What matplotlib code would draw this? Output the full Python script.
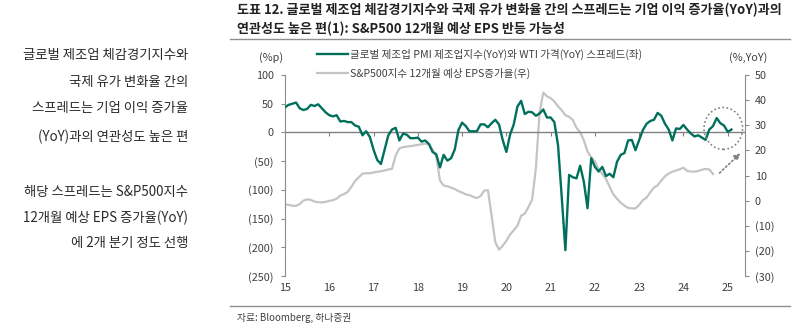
import numpy as np
import matplotlib
matplotlib.use('Agg')
import matplotlib.pyplot as plt
from matplotlib.patches import Ellipse
from matplotlib.ticker import FuncFormatter

plt.rcParams['font.family'] = ['Noto Sans CJK KR', 'DejaVu Sans']

# monthly data from Jan 2015
spread = [44, 48, 50, 52, 42, 39, 41, 48, 46, 49, 42, 35,
          30, 28, 30, 19, 20, 18, 18, 12, 10, -5, 2, -8,
          -30, -48, -55, -30, -5, 5, 8, -14, -2, -4, -10, -10,
          -9, -16, -14, -20, -34, -38, -61, -39, -49, -45, -30, 4,
          17, 11, 2, 2, 2, 14, 14, 9, 16, 22, 14, -13,
          -34, -4, 14, 45, 55, 32, 36, 35, 29, 33, 40, 26,
          26, 18, -22, -112, -205, -74, -78, -80, -58, -86, -132, -45,
          -60, -68, -60, -76, -72, -78, -51, -39, -36, -14, -13, -31,
          -13, 4, 15, 20, 22, 34, 29, 15, 5, -14, 7, 6,
          13, 5, -2, -7, -5, -9, -13, 5, 11, 25, 16, 12,
          1, 5]

eps_growth = [-1.5, -1.7, -2.0, -2.1, -1.3, 0.0, 0.5, 0.3, -0.4, -0.6, -0.7, -0.5,
              -0.1, 0.2, 0.8, 2.0, 2.6, 3.5, 5.5, 7.8, 9.3, 10.7, 10.9, 10.9,
              11.2, 11.5, 11.7, 12.0, 12.4, 12.6, 18.0, 20.8, 21.3, 21.5, 21.7, 21.9,
              22.2, 22.4, 22.7, 22.3, 20.3, 17.5, 8.0, 6.0, 5.7, 5.2, 4.6, 3.8,
              3.2, 2.5, 2.2, 1.5, 1.0, 1.8, 4.0, 4.2, -6.0, -16.5, -19.5, -18.0,
              -16.0, -13.5, -11.8, -10.0, -6.0, -5.2, -2.5, 0.5, 13.0, 35.0, 43.0, 41.5,
              40.8, 39.5, 37.5, 36.0, 34.0, 33.4, 32.1, 29.0, 27.2, 24.0, 19.5, 17.3,
              15.6, 12.5, 10.6, 8.6, 5.5, 2.5, 0.7, -0.8, -2.0, -2.9, -3.1, -3.1,
              -1.7, 0.2, 1.2, 3.3, 5.2, 6.1, 8.0, 9.7, 10.8, 11.5, 12.0, 12.5,
              13.1, 11.8, 11.6, 11.5, 11.8, 12.3, 12.6, 12.4, 10.6]

years = np.arange(2015, 2026)
year_labels = [str(y)[2:] for y in years]

title = ('도표 12. 글로벌 제조업 체감경기지수와 국제 유가 변화율 간의 스프레드는 기업 이익 증가율(YoY)과의\n'
         '연관성도 높은 편(1): S&P500 12개월 예상 EPS 반등 가능성')
side_lines = ['글로벌 제조업 체감경기지수와', '국제 유가 변화율 간의', '스프레드는 기업 이익 증가율',
              '(YoY)과의 연관성도 높은 편', '',
              '해당 스프레드는 S&P500지수', '12개월 예상 EPS 증가율(YoY)', '에 2개 분기 정도 선행']
label_spread = '글로벌 제조업 PMI 제조업지수(YoY)와 WTI 가격(YoY) 스프레드(좌)'
label_eps = 'S&P500지수 12개월 예상 EPS증가율(우)'

W, H = 807, 334
green = '#00705c'
grey_line = '#c4c4c4'
axis_grey = '#8c8c8c'
txt = '#404040'

def paren(v, pos):
    v = int(round(v))
    return f'({abs(v)})' if v < 0 else f'{v}'

fig = plt.figure(figsize=(W / 100, H / 100), dpi=100)
ax = fig.add_axes([285 / W, 1 - 276 / H, (745 - 285) / W, (276 - 75) / H])
ax2 = ax.twinx()

x_spread = 2015 + np.arange(len(spread)) / 12
x_eps = 2015 + np.arange(len(eps_growth)) / 12

ax.axhline(0, color='#808080', lw=1, zorder=1)
l2, = ax2.plot(x_eps, eps_growth, color=grey_line, lw=1.6, label=label_eps)
l1, = ax.plot(x_spread, spread, color=green, lw=1.7, label=label_spread, zorder=3)
ax.set_zorder(ax2.get_zorder() + 1)
ax.patch.set_visible(False)

ax.set_xlim(2015, 2025.39)
ax.set_ylim(-250, 100)
ax.set_yticks(np.arange(-250, 101, 50))
ax.yaxis.set_major_formatter(FuncFormatter(paren))
ax2.set_ylim(-30, 50)
ax2.set_yticks(np.arange(-30, 51, 10))
ax2.yaxis.set_major_formatter(FuncFormatter(paren))

ax.set_xticks(years)
ax.set_xticklabels(year_labels)
ax.tick_params(axis='x', length=0, pad=5, labelsize=7.8, labelcolor=txt)
ax.tick_params(axis='y', length=3, pad=5, labelsize=7.8, labelcolor=txt, color=axis_grey)
ax2.tick_params(axis='y', length=3, pad=4, labelsize=7.8, labelcolor=txt, color=axis_grey)

for a in (ax, ax2):
    for s in ('top', 'bottom'):
        a.spines[s].set_visible(False)
ax.spines['right'].set_visible(False)
ax2.spines['left'].set_visible(False)
ax.spines['left'].set_color(axis_grey)
ax2.spines['right'].set_color(axis_grey)

# tick marks on the zero line
sec = ax.secondary_xaxis(250 / 350)
sec.set_xticks(years[1:])
sec.tick_params(axis='x', bottom=True, top=False, labelbottom=False, labeltop=False,
                length=3, direction='out', color='#808080')
for s in sec.spines.values():
    s.set_visible(False)

# highlight circle and arrow
ax.add_patch(Ellipse((2024.9, 7), width=0.87, height=73, fill=False,
                     ls=(0, (1, 1.5)), ec='#808080', lw=1.2, zorder=4))
ax.annotate('', xy=(2025.33, -33), xytext=(2024.77, -74),
            arrowprops=dict(arrowstyle='-|>', ls=(0, (1, 1.5)), color='#808080',
                            lw=1.2, mutation_scale=9), annotation_clip=False)

ax.legend(handles=[l1, l2], loc='upper left', bbox_to_anchor=(317 / W, 1 - 49 / H),
          bbox_transform=fig.transFigure, frameon=False, fontsize=7.6,
          handlelength=2.9, handletextpad=0.25, labelspacing=0.72,
          borderpad=0, borderaxespad=0, labelcolor=txt)

fig.text(271 / W, 1 - 58 / H, '(%p)', ha='center', va='center', fontsize=7.8, color=txt)
fig.text(748 / W, 1 - 58 / H, '(%,YoY)', ha='center', va='center', fontsize=7.8, color=txt)

fig.text(237 / W, 1 - 19 / H, title, ha='left', va='center', fontsize=9.4,
         fontweight='bold', color='#222222', linespacing=1.4)
fig.add_artist(plt.Line2D([230 / W, 790 / W], [1 - 39 / H, 1 - 39 / H], color='#909090', lw=1))
fig.add_artist(plt.Line2D([230 / W, 790 / W], [1 - 306 / H, 1 - 306 / H], color='#909090', lw=1))
fig.text(237 / W, 1 - 318 / H, '자료: Bloomberg, 하나증권', ha='left', va='center',
         fontsize=7, color=txt)

y_side = [55, 82, 108, 137, 164, 192, 218, 243]
for line, yy in zip(side_lines, y_side):
    if line:
        fig.text(188 / W, 1 - yy / H, line, ha='right', va='center', fontsize=9.6, color='#2a2a2a')

fig.savefig('out.png', dpi=100)
